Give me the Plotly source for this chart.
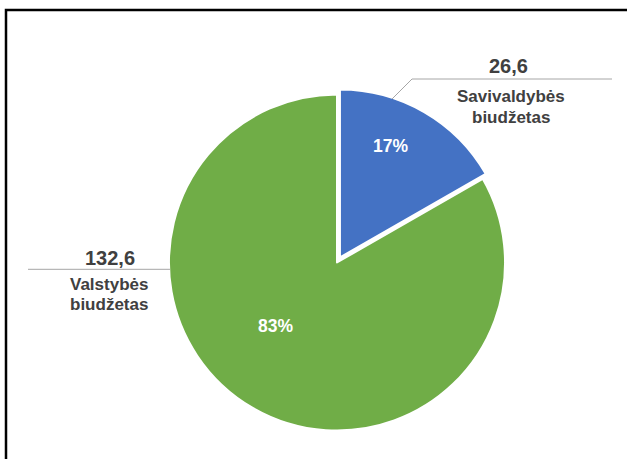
import plotly.graph_objects as go

# ---- data ----
labels = ["Savivaldybės biudžetas", "Valstybės biudžetas"]
values = [26.6, 132.6]
colors = ["#4472C4", "#70AD47"]

W, H = 627, 459
FONT = "Liberation Sans, Arial, sans-serif"
TXT = "#404040"
GRAY = "#A6A6A6"


def px(x):
    return x / W


def py(y):
    return 1 - y / H


def fmt(v):
    return f"{v:.1f}".replace(".", ",")


total = sum(values)
pcts = [f"{round(v / total * 100)}%" for v in values]

fig = go.Figure(
    go.Pie(
        labels=labels,
        values=values,
        sort=False,
        direction="clockwise",
        rotation=0,
        pull=[0.035, 0],
        marker=dict(colors=colors, line=dict(color="white", width=2)),
        textinfo="none",
        hoverinfo="label+value+percent",
        showlegend=False,
        domain=dict(x=[163.1 / W, 510.9 / W], y=[22.6 / H, 370.4 / H]),
    )
)

annotations = []


def add_text(text, cx, baseline, size, color):
    cy = baseline - 0.3465 * size
    annotations.append(
        dict(
            text=text,
            x=px(cx),
            y=py(cy),
            xref="paper",
            yref="paper",
            xanchor="center",
            yanchor="middle",
            showarrow=False,
            borderpad=0,
            font=dict(family=FONT, size=size, color=color, weight="bold"),
        )
    )


# outside value labels and names
add_text(fmt(values[0]), 508, 73, 20, TXT)
for i, word in enumerate(labels[0].split(" ")):
    add_text(word, 511, 102.7 + i * 20.6, 17, TXT)
add_text(fmt(values[1]), 110, 265, 20, TXT)
for i, word in enumerate(labels[1].split(" ")):
    add_text(word, 108.5, 290 + i * 20.3, 17, TXT)

# percent labels inside slices
add_text(pcts[0], 390, 151.8, 17.5, "white")
add_text(pcts[1], 275, 332, 17.5, "white")

shapes = [
    dict(
        type="path",
        xref="paper",
        yref="paper",
        path=f"M {px(392)} {py(99)} L {px(412)} {py(79)} L {px(612)} {py(79)}",
        line=dict(color=GRAY, width=1),
    ),
    dict(
        type="line",
        xref="paper",
        yref="paper",
        x0=px(28),
        x1=px(170),
        y0=py(269.3),
        y1=py(269.3),
        line=dict(color=GRAY, width=1),
    ),
    dict(
        type="rect",
        xref="paper",
        yref="paper",
        x0=px(6),
        x1=px(W + 20),
        y0=py(H + 20),
        y1=py(10),
        line=dict(color="black", width=2.5),
        fillcolor="rgba(0,0,0,0)",
    ),
]

fig.update_layout(
    width=W,
    height=H,
    margin=dict(l=0, r=0, t=0, b=0),
    paper_bgcolor="white",
    plot_bgcolor="white",
    annotations=annotations,
    shapes=shapes,
)

fig.write_html(
    "out.html",
    config={"displayModeBar": False},
    post_script="document.body.style.margin='0';document.body.style.overflow='hidden';",
)
